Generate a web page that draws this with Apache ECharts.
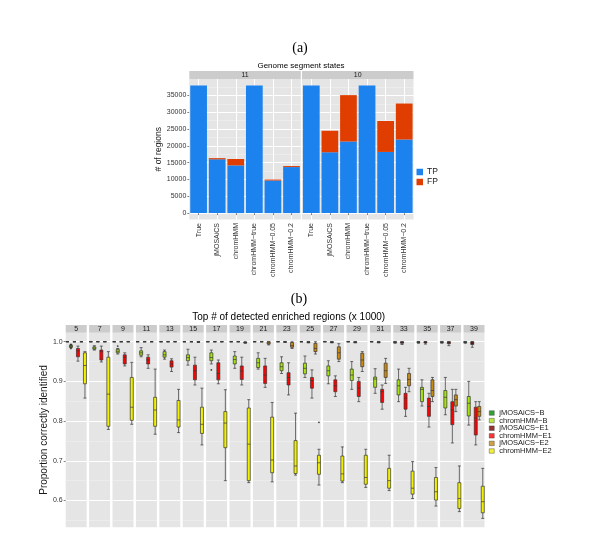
<!DOCTYPE html>
<html><head><meta charset="utf-8">
<script src="https://cdn.jsdelivr.net/npm/echarts@6/dist/echarts.min.js"></script>
<style>html,body{margin:0;padding:0;background:#fff}#c{width:600px;height:560px}</style>
</head><body><div id="c"></div>
<script>
// ---------- Panel (a) data ----------
const stateFacets = ['11', '10'];
const methods = ['True', 'jMOSAiCS', 'chromHMM', 'chromHMM\u2212true', 'chromHMM\u22120.05', 'chromHMM\u22120.2'];
const tpState11 = [38000, 16000, 14200, 38000, 9700, 13700];
const fpState11 = [0, 350, 1900, 0, 300, 300];
const tpState10 = [38000, 18100, 21300, 38000, 18200, 21900];
const fpState10 = [0, 6400, 13800, 0, 9200, 10700];
const regionTicks = [0, 5000, 10000, 15000, 20000, 25000, 30000, 35000];

// ---------- Panel (b) data ----------
const topFacets = ['5','7','9','11','13','15','17','19','21','23','25','27','29','31','33','35','37','39'];
const groupNames = ['jMOSAiCS\u2212B', 'chromHMM\u2212B', 'jMOSAiCS\u2212E1', 'chromHMM\u2212E1', 'jMOSAiCS\u2212E2', 'chromHMM\u2212E2'];
// [min, Q1, median, Q3, max] per facet
const jmosaicsB = [
  [1,1,1,1,1],[1,1,1,1,1],[1,1,1,1,1],[1,1,1,1,1],[1,1,1,1,1],[1,1,1,1,1],
  [1,1,1,1,1],[1,1,1,1,1],[1,1,1,1,1],[1,1,1,1,1],[1,1,1,1,1],[1,1,1,1,1],
  [1,1,1,1,1],[1,1,1,1,1],[0.996,0.998,0.999,1,1],[0.996,0.998,0.999,1,1],[0.996,0.998,0.999,1,1],[0.996,0.998,0.999,1,1]
];
const chromB = [
  [0.985,0.986,0.988,0.991,0.992],[0.979,0.981,0.984,0.987,0.990],[0.969,0.972,0.976,0.981,0.983],
  [0.962,0.966,0.972,0.977,0.985],[0.956,0.961,0.967,0.975,0.979],[0.941,0.952,0.960,0.967,0.981],
  [0.944,0.952,0.960,0.972,0.979],[0.933,0.944,0.955,0.964,0.975],[0.931,0.935,0.947,0.958,0.972],
  [0.920,0.927,0.937,0.947,0.962],[0.910,0.919,0.933,0.946,0.964],[0.894,0.914,0.927,0.939,0.952],
  [0.880,0.902,0.916,0.931,0.950],[0.870,0.885,0.906,0.911,0.932],[0.849,0.866,0.889,0.904,0.931],
  [0.838,0.849,0.880,0.885,0.904],[0.816,0.833,0.860,0.877,0.910],[0.790,0.813,0.845,0.862,0.900]
];
const jmosaicsE1 = [
  [1,1,1,1,1],[1,1,1,1,1],[1,1,1,1,1],[1,1,1,1,1],[1,1,1,1,1],[1,1,1,1,1],
  [1,1,1,1,1],[1,1,1,1,1],[1,1,1,1,1],[0.998,0.999,1,1,1],[0.997,0.998,0.999,1,1],[0.997,0.998,0.999,1,1],
  [0.997,0.998,0.999,1,1],[0.997,0.998,0.999,1,1],[0.993,0.996,0.998,1,1],[0.994,0.997,0.999,1,1],[0.990,0.995,0.998,1,1],[0.986,0.993,0.997,1,1]
];
const chromE1 = [
  [0.951,0.962,0.977,0.983,0.989],[0.949,0.954,0.975,0.979,0.989],[0.939,0.944,0.961,0.967,0.972],
  [0.933,0.944,0.954,0.961,0.967],[0.925,0.936,0.944,0.952,0.957],[0.891,0.904,0.927,0.941,0.961],
  [0.894,0.904,0.920,0.947,0.954],[0.891,0.905,0.926,0.939,0.961],[0.885,0.895,0.916,0.939,0.958],
  [0.866,0.891,0.910,0.922,0.947],[0.858,0.883,0.902,0.910,0.929],[0.862,0.874,0.889,0.904,0.914],
  [0.849,0.862,0.883,0.900,0.910],[0.830,0.847,0.874,0.880,0.891],[0.812,0.830,0.858,0.870,0.885],
  [0.785,0.812,0.837,0.858,0.870],[0.745,0.791,0.828,0.849,0.880],[0.740,0.765,0.808,0.835,0.849]
];
const jmosaicsE2 = [
  [1,1,1,1,1],[1,1,1,1,1],[1,1,1,1,1],[1,1,1,1,1],[1,1,1,1,1],[0.998,0.999,1,1,1],
  [1,1,1,1,1],[0.996,0.997,0.998,0.999,1],[0.992,0.994,0.997,1,1],[0.983,0.986,0.990,0.998,1],
  [0.969,0.975,0.983,0.996,1],[0.950,0.956,0.972,0.987,0.995],[0.925,0.937,0.954,0.971,0.975],
  [0.895,0.910,0.927,0.946,0.958],[0.874,0.889,0.905,0.920,0.933],[0.849,0.862,0.877,0.904,0.910],
  [0.824,0.838,0.854,0.866,0.880],[0.803,0.812,0.824,0.837,0.849]
];
const chromE2 = [
  [0.858,0.894,0.940,0.972,0.975],[0.779,0.787,0.868,0.961,0.975],[0.792,0.802,0.835,0.910,0.948],
  [0.767,0.787,0.828,0.860,0.931],[0.771,0.785,0.803,0.852,0.880],[0.740,0.769,0.792,0.835,0.883],
  [0.650,0.733,0.795,0.824,0.879],[0.645,0.650,0.742,0.833,0.854],[0.647,0.670,0.702,0.810,0.847],
  [0.664,0.668,0.687,0.751,0.820],[0.639,0.666,0.695,0.714,0.729],[0.645,0.649,0.667,0.712,0.735],
  [0.633,0.641,0.658,0.714,0.729],[0.625,0.631,0.650,0.681,0.714],[0.605,0.616,0.631,0.674,0.698],
  [0.586,0.601,0.622,0.658,0.683],[0.572,0.580,0.605,0.645,0.687],[0.555,0.569,0.597,0.636,0.681]
];
// [facet index, group index, value]
const outlierPoints = [[0,1,0.993],[0,1,0.983],[2,1,0.989],[6,1,0.929],[10,5,0.797]];
const propTicks = [0.6, 0.7, 0.8, 0.9, 1.0];

// ---------- Styles / layout ----------
const FONT = '"Liberation Sans", Arial, sans-serif';
const SERIF = '"Liberation Serif", "DejaVu Serif", serif';
const BG = '#E5E5E5', STRIP = '#CCCCCC', TXT = '#1A1A1A', AX = '#333333';
const tpColor = '#1C82EE', fpColor = '#E03D00';
const groupColors = ['#008B00', '#A5E40F', '#7A0000', '#FF0000', '#C98A12', '#F0F000'];
const groupSets = [jmosaicsB, chromB, jmosaicsE1, chromE1, jmosaicsE2, chromE2];

const grids = [], xAxes = [], yAxes = [], series = [], graphics = [];

// Panel (a)
const aTop = 79, aH = 140.5, aW = 111.5, aLeft = [189.3, 302];
const stateData = [[tpState11, fpState11], [tpState10, fpState10]];
stateFacets.forEach((f, i) => {
  grids.push({left: aLeft[i], top: aTop, width: aW, height: aH, show: true, backgroundColor: BG, borderWidth: 0, containLabel: false});
  xAxes.push({type: 'category', gridIndex: i, data: methods,
    axisLine: {show: false},
    axisTick: {show: true, alignWithLabel: true, length: 2, lineStyle: {color: AX, width: 0.6}},
    axisLabel: {rotate: 90, fontSize: 7, color: AX, margin: 3.5, fontFamily: FONT},
    splitLine: {show: true, alignWithLabel: true, lineStyle: {color: '#fff', width: 1}}});
  yAxes.push({type: 'value', gridIndex: i, min: -1900, max: 39900, splitNumber: 8,
    axisLine: {show: false},
    axisTick: {show: i === 0, length: 2, customValues: regionTicks, lineStyle: {color: AX, width: 0.6}},
    axisLabel: {show: i === 0, fontSize: 7, color: AX, margin: 3, fontFamily: FONT, customValues: regionTicks,
      formatter: v => regionTicks.indexOf(v) >= 0 ? String(v) : ''},
    splitLine: {show: true, lineStyle: {color: '#fff', width: 1}},
    minorTick: {show: false, splitNumber: 2},
    minorSplitLine: {show: true, lineStyle: {color: '#F2F2F2', width: 0.5}},
    name: i === 0 ? '# of regions' : '', nameLocation: 'middle', nameGap: 24,
    nameTextStyle: {fontSize: 8.5, color: TXT, fontFamily: FONT}});
  series.push({type: 'bar', name: 'TP', stack: 's' + i, xAxisIndex: i, yAxisIndex: i,
    data: stateData[i][0], barCategoryGap: '10%', itemStyle: {color: tpColor}});
  series.push({type: 'bar', name: 'FP', stack: 's' + i, xAxisIndex: i, yAxisIndex: i,
    data: stateData[i][1], barCategoryGap: '10%', itemStyle: {color: fpColor}});
  graphics.push({type: 'rect', shape: {x: aLeft[i], y: 71, width: aW, height: 8}, style: {fill: STRIP}});
  graphics.push({type: 'text', x: aLeft[i] + aW / 2, y: 75.2,
    style: {text: f, fontSize: 7, fontFamily: FONT, fill: TXT, align: 'center', verticalAlign: 'middle', textAlign: 'center', textVerticalAlign: 'middle'}});
});

// Panel (b)
const bTop = 332.7, bH = 194.6, bW = 21, bStep = 23.4, bLeft0 = 65.7;
topFacets.forEach((f, k) => {
  const gi = 2 + k;
  const left = bLeft0 + k * bStep;
  grids.push({left: left, top: bTop, width: bW, height: bH, show: true, backgroundColor: BG, borderWidth: 0});
  xAxes.push({type: 'category', gridIndex: gi, data: groupNames,
    axisLine: {show: false}, axisTick: {show: false}, axisLabel: {show: false}, splitLine: {show: false}});
  yAxes.push({type: 'value', gridIndex: gi, min: 0.5325, max: 1.0227, splitNumber: 5,
    axisLine: {show: false},
    axisTick: {show: k === 0, length: 2, customValues: propTicks, lineStyle: {color: AX, width: 0.6}},
    axisLabel: {show: k === 0, fontSize: 7, color: AX, margin: 3, fontFamily: FONT, customValues: propTicks,
      formatter: v => { const t = propTicks.find(p => Math.abs(p - v) < 1e-6); return t !== undefined ? t.toFixed(1) : ''; }},
    splitLine: {show: true, lineStyle: {color: '#fff', width: 1}},
    minorTick: {show: false, splitNumber: 2},
    minorSplitLine: {show: true, lineStyle: {color: '#F2F2F2', width: 0.5}},
    name: k === 0 ? 'Proportion correctly identified' : '', nameLocation: 'middle', nameGap: 15,
    nameTextStyle: {fontSize: 10, color: TXT, fontFamily: FONT}});
  series.push({type: 'boxplot', xAxisIndex: gi, yAxisIndex: gi, boxWidth: [3, 3],
    data: groupSets.map((arr, g) => ({value: arr[k], itemStyle: {color: groupColors[g], borderColor: AX, borderWidth: 0.7}})),
    emphasis: {disabled: true}});
  const pts = outlierPoints.filter(o => o[0] === k).map(o => [o[1], o[2]]);
  if (pts.length) {
    series.push({type: 'scatter', xAxisIndex: gi, yAxisIndex: gi, data: pts, symbolSize: 1.8,
      itemStyle: {color: '#111'}, emphasis: {disabled: true}});
  }
  graphics.push({type: 'rect', shape: {x: left, y: 325, width: bW, height: 7.7}, style: {fill: STRIP}});
  graphics.push({type: 'text', x: left + bW / 2, y: 329,
    style: {text: f, fontSize: 7, fontFamily: FONT, fill: TXT, align: 'center', verticalAlign: 'middle', textAlign: 'center', textVerticalAlign: 'middle'}});
});
// legend carriers for panel (b)
groupNames.forEach((n, g) => {
  series.push({type: 'scatter', name: n, xAxisIndex: 2, yAxisIndex: 2, data: [], itemStyle: {color: groupColors[g]}});
});

// free texts
const txt = (s, x, y, size, font) => ({type: 'text', x: x, y: y,
  style: {text: s, fontSize: size, fontFamily: font, fill: '#000', align: 'center', verticalAlign: 'middle', textAlign: 'center', textVerticalAlign: 'middle'}});
graphics.push(txt('(a)', 300, 48, 14, SERIF));
graphics.push(txt('Genome segment states', 301, 66, 8, FONT));
graphics.push(txt('(b)', 299, 299, 14, SERIF));
graphics.push(txt('Top # of detected enriched regions (x 1000)', 288.7, 317.5, 10, FONT));

const option = {
  animation: false,
  backgroundColor: '#fff',
  grid: grids, xAxis: xAxes, yAxis: yAxes, series: series,
  graphic: {elements: graphics},
  legend: [
    {data: ['TP', 'FP'], orient: 'vertical', left: 416.5, top: 167.5, padding: 0, itemWidth: 6.5, itemHeight: 6.5, itemGap: 1,
      icon: 'rect', selectedMode: false, textStyle: {fontSize: 8.5, color: TXT, fontFamily: FONT, padding: [0, 0, 0, -1]}},
    {data: groupNames, orient: 'vertical', left: 489, top: 409, padding: 0, itemWidth: 5, itemHeight: 4.5, itemGap: -0.4,
      icon: 'rect', selectedMode: false, itemStyle: {borderColor: AX, borderWidth: 0.5},
      textStyle: {fontSize: 7.5, color: TXT, fontFamily: FONT}}
  ]
};
const chart = echarts.init(document.getElementById('c'), null, {renderer: 'canvas'});
chart.setOption(option);
</script>
</body></html>
